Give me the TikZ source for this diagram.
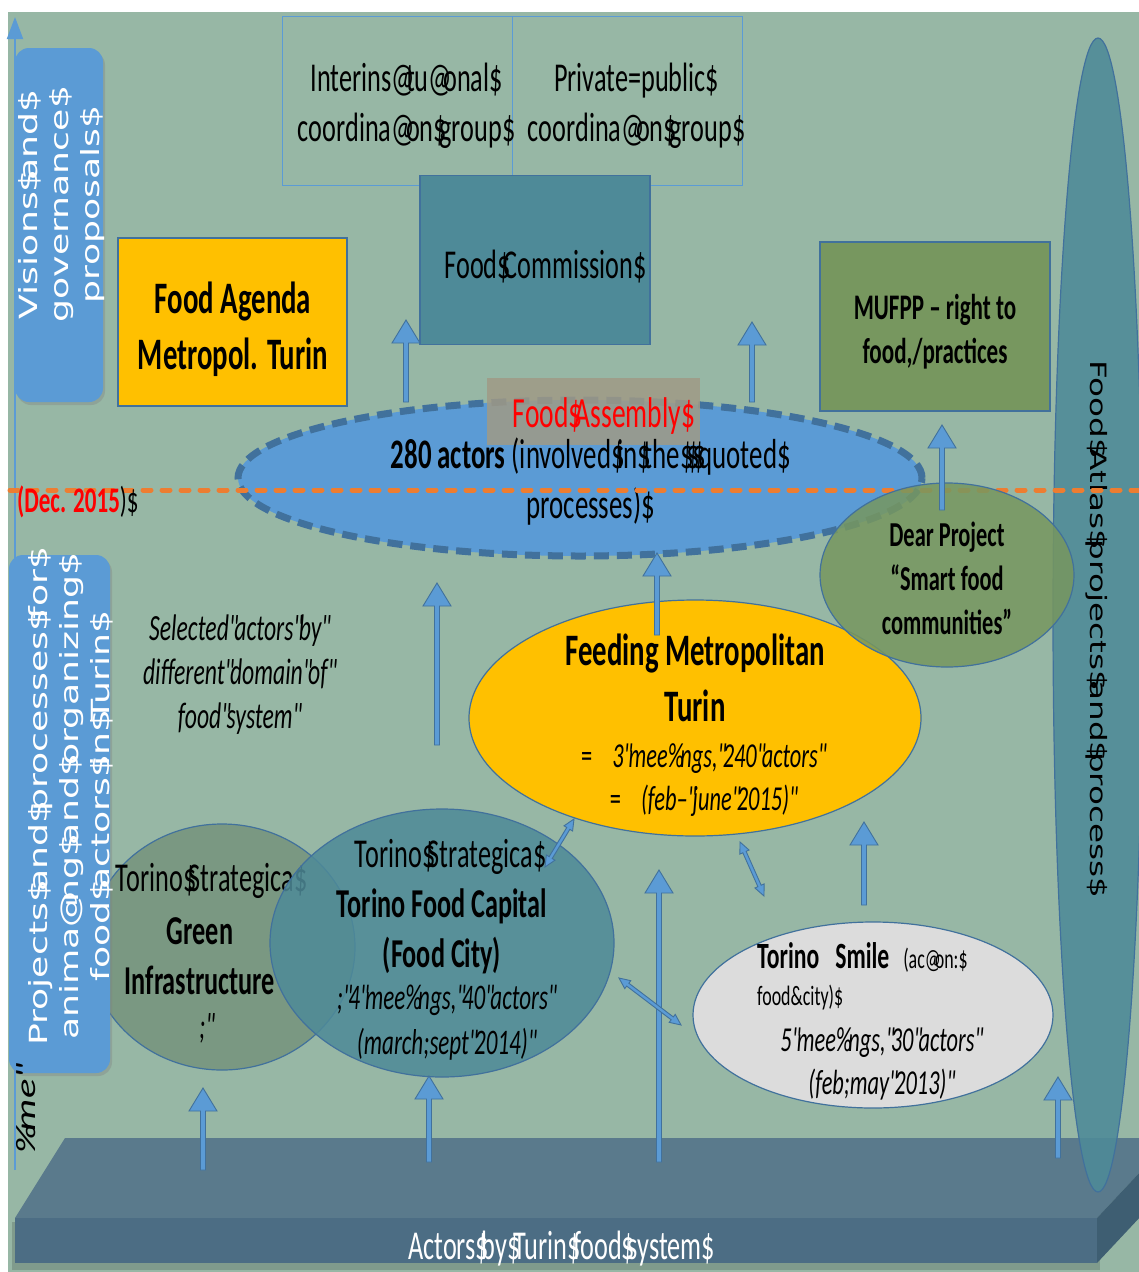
\documentclass[tikz,border=0pt]{standalone}
\usepackage{fontspec}
\setmainfont{Carlito}[FakeStretch=0.64, Ligatures=TeXOff]
\newfontfamily\vsans{DejaVu Sans}[FakeStretch=1.45]
\newfontfamily\vcal{Carlito}[FakeStretch=1.45, Ligatures=TeXOff]
\usetikzlibrary{calc,shadows,shapes.geometric,arrows.meta}
\definecolor{bgc}{HTML}{97B7A5}
\definecolor{blueA}{HTML}{5B9BD5}
\definecolor{blueB}{HTML}{41719C}
\definecolor{tealc}{HTML}{4E8A98}
\definecolor{yel}{HTML}{FFC000}
\definecolor{grn}{HTML}{77975F}
\definecolor{grn2}{HTML}{7A9882}
\definecolor{lgray}{HTML}{DCDCDC}
\definecolor{orng}{HTML}{ED7D31}
\definecolor{asm}{HTML}{A09A86}
\definecolor{ptop}{HTML}{5A7A8C}
\definecolor{pfront}{HTML}{4C6D84}
\definecolor{pside}{HTML}{3E5E72}
\newcommand\fs[2]{\fontsize{#1}{#2}\selectfont}
\newcommand\dol{\makebox[\fontdimen2\font][l]{\$}}
\newcommand\qqt{\makebox[\fontdimen2\font][l]{"}}
\newcommand\tiat{\setbox0\hbox{ti}\makebox[\wd0][l]{@}}
\newcommand\tipc{\setbox0\hbox{ti}\makebox[\wd0][l]{\%}}
\newcommand\blockarrow[2]{%
  \coordinate (hb) at ($(#2)!23pt!(#1)$);
  \filldraw[barrow] ($(#1)!2.5pt!90:(#2)$) -- ($(hb)!2.5pt!-90:(#1)$) -- ($(hb)!14pt!-90:(#1)$) -- (#2)
    -- ($(hb)!14pt!90:(#1)$) -- ($(hb)!2.5pt!90:(#1)$) -- ($(#1)!2.5pt!-90:(#2)$) -- cycle;}
\newcommand\dblarrow[2]{%
  \coordinate (ha) at ($(#1)!11pt!(#2)$);
  \coordinate (hb) at ($(#2)!11pt!(#1)$);
  \filldraw[barrow] (#1) -- ($(ha)!5pt!90:(#2)$) -- ($(ha)!1.8pt!90:(#2)$) -- ($(hb)!1.8pt!-90:(#1)$)
    -- ($(hb)!5pt!-90:(#1)$) -- (#2) -- ($(hb)!5pt!90:(#1)$) -- ($(hb)!1.8pt!90:(#1)$)
    -- ($(ha)!1.8pt!-90:(#2)$) -- ($(ha)!5pt!-90:(#2)$) -- cycle;}
\begin{document}
\begin{tikzpicture}[x=1pt,y=-1pt,
  txt/.style={inner sep=0pt, align=center},
  barrow/.style={fill=blueA, draw=blueB, line width=0.9pt, line join=miter},
  thinbox/.style={draw=blueA, line width=1pt, minimum width=230pt, minimum height=169pt, inner sep=0pt},
  solidbox/.style={draw=blueB, line width=1.5pt, minimum width=230pt, minimum height=169pt, inner sep=0pt},
  ell/.style={ellipse, draw=blueB, line width=1.2pt, inner sep=0pt},
  lbl/.style={rounded corners=14pt, fill=blueA, drop shadow={shadow xshift=2pt, shadow yshift=-3pt, opacity=0.35}},
]
\useasboundingbox (0,0) rectangle (1139,1272);
\fill[white] (0,0) rectangle (1139,1272);
\fill[bgc] (8,12) rectangle (1139,1272);

% time axis
\coordinate (ax0) at (15,1170);
\coordinate (ax1) at (15,17);
\draw[blueA, line width=2pt, -{Triangle[width=16pt,length=22pt]}] (ax0) -- (ax1);

% platform
\fill[black, opacity=0.15] (12,1222) rectangle (1100,1270);
\fill[ptop] (65,1138) -- (1172,1138) -- (1097,1218) -- (15,1218) -- cycle;
\fill[pside] (1097,1218) -- (1172,1138) -- (1172,1183) -- (1097,1263) -- cycle;
\fill[pfront] (15,1218) rectangle (1097,1263);
\node[txt, text=white, font=\fs{41}{48}] (act) at (558,1249) {Actors\dol by\dol Turin\dol food\dol system\dol};

% top boxes
\node[thinbox] (ib) at (397,100.5) {};
\node[thinbox] (pb) at (627,100.5) {};
\node[txt, font=\fs{41}{50}] (ibt) at (403,106) {Interins\tiat tu\tiat onal\dol\\coordina\tiat on\dol group\dol};
\node[txt, font=\fs{41}{50}] (pbt) at (633,106) {Private=public\dol\\coordina\tiat on\dol group\dol};
\node[solidbox, fill=tealc] (fc) at (535,260) {};
\node[txt, font=\fs{41}{50}] (fct) at (542,267) {Food\dol Commission\dol};
\node[solidbox, fill=yel, minimum width=229pt, minimum height=168pt] (fa) at (232.5,322) {};
\node[txt, font=\bfseries\fs{45}{56}] (fat) at (233,329) {Food Agenda\\Metropol. Turin};
\node[solidbox, fill=grn] (mu) at (935,326.5) {};
\node[txt, font=\bfseries\fs{36}{44}] (mut) at (935,332) {MUFPP – right to\\food,/practices};

% Food atlas
\node[ell, fill=tealc, fill opacity=0.88, minimum width=90pt, minimum height=1154pt] (atl) at (1098,615) {};
\node[txt, rotate=-90, font=\vsans\fs{22.5}{28}] (atlt) at (1097,624) {Food\dol Atlas\dol projects\dol and\dol process\dol};

% Food assembly ellipse
\node[ellipse, fill=blueA, draw=blueB, line width=7pt, dash pattern=on 15pt off 8pt, minimum width=684pt, minimum height=156pt, inner sep=0pt] (asb) at (580,478) {};
\node[fill=asm, fill opacity=0.85, minimum width=213pt, minimum height=67pt, inner sep=0pt] (asr) at (593.5,411.5) {};
\node[txt, text=red, font=\fs{43}{50}] (asbt) at (600,416) {Food\dol Assembly\dol};
\node[txt, font=\fs{42}{50}] (act280) at (587,482) {{\bfseries 280 actors} (involved\dol in\dol the\dol\dol\dol quoted\dol\\processes)\dol};

% Dec 2015 line
\coordinate (o1) at (10,490);
\coordinate (o2) at (1139,490);
\draw[orng, line width=5pt, dash pattern=on 8pt off 11pt, line cap=round] (o1) -- (o2);
\node[anchor=west, inner sep=0pt, font=\fs{36}{42}] (dec) at (17,502) {\textcolor{red}{\bfseries (Dec. 2015}{)\dol}};

% Feeding ellipse
\node[ell, fill=yel, minimum width=452pt, minimum height=236pt] (feed) at (695,718) {};
\node[txt, font=\bfseries\fs{45}{56}] (feedt) at (695,678) {Feeding Metropolitan\\Turin};
\node[txt, font=\itshape\fs{35}{43}] (feedi) at (702,780) {{\upshape =}\hspace*{20pt}3\qqt mee\tipc ngs,\qqt 240\qqt actors\qqt\\{\upshape =}\hspace*{20pt}(feb–\qqt june\qqt 2015)\qqt};

% Dear project
\node[ell, fill=grn, fill opacity=0.85, minimum width=254pt, minimum height=184pt] (dear) at (947,575) {};
\node[txt, font=\bfseries\fs{35}{44}] (deart) at (947,578) {Dear Project\\“Smart food\\communities”};

% selected actors
\node[txt, font=\itshape\fs{37}{44}] (sel) at (238,675) {Selected\qqt actors\qqt by\qqt\\different\qqt domain\qqt of\qqt\\food\qqt system\qqt};

% Torino green infrastructure
\node[ell, fill=grn2, minimum width=266pt, minimum height=246pt] (gi) at (222,947) {};
\node[txt, font=\fs{41}{50}] (git1) at (208,881) {Torino\dol Strategica\dol};
\node[txt, font=\bfseries\fs{41}{50}] (git2) at (200,956) {Green\\Infrastructure};
\node[txt, font=\itshape\fs{37}{45}] (git3) at (205,1028) {;\qqt};

% Torino food capital
\node[ell, fill=tealc, fill opacity=0.85, minimum width=344pt, minimum height=268pt] (cap) at (442,943) {};
\node[txt, font=\fs{41}{50}] (capt1) at (447,857) {Torino\dol Strategica\dol};
\node[txt, font=\bfseries\fs{41}{50}] (capt2) at (442,931) {Torino Food Capital\\(Food City)};
\node[txt, font=\itshape\fs{36}{45}] (capt3) at (445,1023) {;\qqt 4\qqt mee\tipc ngs,\qqt 40\qqt actors\qqt\\(march;sept\qqt 2014)\qqt};

% Torino smile
\node[ell, fill=lgray, minimum width=360pt, minimum height=186pt] (sm) at (873,1015) {};
\node[anchor=base west, inner sep=0pt, font=\bfseries\fs{37}{45}] (smt1) at (757,968) {Torino\hspace*{16pt}Smile\hspace*{14pt}{\mdseries\fs{28}{34}(ac\tiat on:\dol}};
\node[anchor=base west, inner sep=0pt, font=\fs{28}{34}] (smt2) at (757,1005) {food\&city)\dol};
\node[txt, font=\itshape\fs{35}{43}] (smt3) at (880,1064) {5\qqt mee\tipc ngs,\qqt 30\qqt actors\qqt\\(feb;may\qqt 2013)\qqt};

% arrows
\coordinate (a1s) at (406,402); \coordinate (a1e) at (406,320);
\coordinate (a2s) at (752,402); \coordinate (a2e) at (752,322);
\coordinate (a3s) at (942,510); \coordinate (a3e) at (942,425);
\coordinate (a4s) at (657,635); \coordinate (a4e) at (657,553);
\coordinate (a5s) at (437,745); \coordinate (a5e) at (437,583);
\coordinate (a6s) at (659,1162); \coordinate (a6e) at (659,870);
\coordinate (a7s) at (864,905); \coordinate (a7e) at (864,822);
\coordinate (a8s) at (203,1170); \coordinate (a8e) at (203,1088);
\coordinate (a9s) at (429,1162); \coordinate (a9e) at (429,1076);
\coordinate (a10s) at (1058,1158); \coordinate (a10e) at (1058,1077);
\blockarrow{a1s}{a1e}
\blockarrow{a2s}{a2e}
\blockarrow{a3s}{a3e}
\blockarrow{a4s}{a4e}
\blockarrow{a5s}{a5e}
\blockarrow{a6s}{a6e}
\blockarrow{a7s}{a7e}
\blockarrow{a8s}{a8e}
\blockarrow{a9s}{a9e}
\blockarrow{a10s}{a10e}
\coordinate (d1a) at (545,867); \coordinate (d1b) at (574,819);
\coordinate (d2a) at (740,842); \coordinate (d2b) at (764,896);
\coordinate (d3a) at (619,978); \coordinate (d3b) at (681,1025);
\dblarrow{d1a}{d1b}
\dblarrow{d2a}{d2b}
\dblarrow{d3a}{d3b}

% left labels
\node[lbl, minimum width=88pt, minimum height=354pt] (lb1) at (59,225) {};
\node[txt, rotate=90, text=white, font=\vsans\fs{25}{31}] (lt1) at (62,210) {Visions\dol and\dol\\governance\dol\\proposals\dol};
\node[lbl, minimum width=101pt, minimum height=518pt] (lb2) at (59.5,814) {};
\node[txt, rotate=90, text=white, font=\vsans\fs{25}{31}] (lt2) at (71,802) {Projects\dol and\dol processes\dol for\dol\\anima\tiat ng\dol and\dol organizing\dol\\food\dol actors\dol in\dol Turin\dol};
\node[txt, rotate=90, font=\vcal\itshape\fs{28}{34}] (tme) at (26,1112) {\tipc me\qqt};
\end{tikzpicture}
\end{document}
